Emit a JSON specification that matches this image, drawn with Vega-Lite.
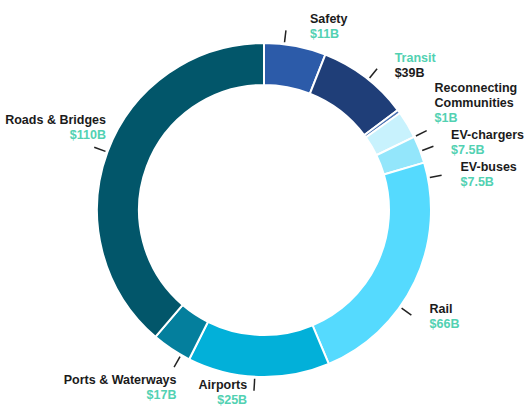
{
  "$schema": "https://vega.github.io/schema/vega-lite/v6.json",
  "width": 528,
  "height": 396,
  "autosize": "none",
  "padding": {"top": 12, "left": 0, "right": 0, "bottom": 0},
  "background": "white",
  "config": {"view": {"stroke": null}, "font": "Liberation Sans"},
  "data": {
    "values": [
      {"idx": 1, "name": "Safety", "amount": 11, "label": "$11B", "share": 17},
      {"idx": 2, "name": "Transit", "amount": 39, "label": "$39B", "share": 25},
      {"idx": 3, "name": "Reconnecting\nCommunities", "amount": 1, "label": "$1B", "share": 1},
      {"idx": 4, "name": "EV-chargers", "amount": 7.5, "label": "$7.5B", "share": 7.5},
      {"idx": 5, "name": "EV-buses", "amount": 7.5, "label": "$7.5B", "share": 7.5},
      {"idx": 6, "name": "Rail", "amount": 66, "label": "$66B", "share": 66},
      {"idx": 7, "name": "Airports", "amount": 25, "label": "$25B", "share": 39},
      {"idx": 8, "name": "Ports & Waterways", "amount": 17, "label": "$17B", "share": 11},
      {"idx": 9, "name": "Roads & Bridges", "amount": 110, "label": "$110B", "share": 110}
    ]
  },
  "layer": [
    {
      "mark": {"type": "arc", "innerRadius": 125, "outerRadius": 167, "stroke": "white", "strokeWidth": 2},
      "encoding": {
        "theta": {"field": "share", "type": "quantitative", "stack": true},
        "order": {"field": "idx", "type": "quantitative"},
        "color": {
          "field": "name",
          "type": "nominal",
          "legend": null,
          "scale": {
            "domain": ["Safety", "Transit", "Reconnecting\nCommunities", "EV-chargers", "EV-buses", "Rail", "Airports", "Ports & Waterways", "Roads & Bridges"],
            "range": ["#2c5ba9", "#1f3e78", "#4a73b3", "#c8f2fd", "#93e6fb", "#55dafe", "#02b0d9", "#047f9d", "#02566a"]
          }
        }
      }
    },
    {
      "transform": [
        {"window": [{"op": "sum", "field": "amount", "as": "cum"}], "sort": [{"field": "idx"}], "frame": [null, 0]},
        {"joinaggregate": [{"op": "sum", "field": "amount", "as": "total"}]},
        {"calculate": "2*PI*(datum.cum - datum.amount/2)/datum.total", "as": "a"},
        {"calculate": "sin(datum.a) > 0 ? 'R' : 'L'", "as": "side"},
        {"calculate": "184*cos(datum.a)", "as": "by"},
        {"window": [{"op": "row_number", "as": "rk"}], "groupby": ["side"], "sort": [{"field": "idx", "order": "descending"}]},
        {"calculate": "datum.by - 32*datum.rk", "as": "w"},
        {"window": [{"op": "max", "field": "w", "as": "wmax"}], "groupby": ["side"], "sort": [{"field": "idx", "order": "descending"}], "frame": [null, 0]},
        {"calculate": "datum.side === 'R' ? datum.wmax + 32*datum.rk : clamp(datum.by + (cos(datum.a) > 0 ? 18 : -18), -183, 183)", "as": "cy"},
        {"calculate": "datum.side === 'R' ? 190*sqrt(max(0, 1 - pow(datum.cy/186, 2))) + 10 : -(160*abs(sin(datum.a)) + 8)", "as": "lx"},
        {"calculate": "datum.cy + 15*(length(split(datum.name, '\\n')) - 1) + 1", "as": "ny"},
        {"calculate": "datum.cy - 1", "as": "ay"},
        {"calculate": "169*sin(datum.a)", "as": "x1"},
        {"calculate": "169*cos(datum.a)", "as": "y1"},
        {"calculate": "181*sin(datum.a)", "as": "x2"},
        {"calculate": "181*cos(datum.a)", "as": "y2"}
      ],
      "layer": [
        {
          "mark": {"type": "rule", "color": "#222222", "strokeWidth": 1.5},
          "encoding": {
            "x": {"field": "x1", "type": "quantitative", "scale": {"domain": [-264, 264], "nice": false, "zero": false}, "axis": null},
            "y": {"field": "y1", "type": "quantitative", "scale": {"domain": [-198, 198], "nice": false, "zero": false}, "axis": null},
            "x2": {"field": "x2"},
            "y2": {"field": "y2"}
          }
        },
        {
          "transform": [{"filter": "datum.side === 'R'"}],
          "mark": {"type": "text", "align": "left", "baseline": "bottom", "fontWeight": "bold", "fontSize": 12.5, "lineBreak": "\n", "lineHeight": 15},
          "encoding": {
            "x": {"field": "lx", "type": "quantitative"},
            "y": {"field": "ny", "type": "quantitative"},
            "text": {"field": "name"},
            "color": {"condition": {"test": "datum.idx === 2", "value": "#52d1b2"}, "value": "#1b1b1b"}
          }
        },
        {
          "transform": [{"filter": "datum.side === 'R'"}],
          "mark": {"type": "text", "align": "left", "baseline": "top", "fontWeight": "bold", "fontSize": 12.5},
          "encoding": {
            "x": {"field": "lx", "type": "quantitative"},
            "y": {"field": "ay", "type": "quantitative"},
            "text": {"field": "label"},
            "color": {"condition": {"test": "datum.idx === 2", "value": "#1b1b1b"}, "value": "#52d1b2"}
          }
        },
        {
          "transform": [{"filter": "datum.side === 'L'"}],
          "mark": {"type": "text", "align": "right", "baseline": "bottom", "fontWeight": "bold", "fontSize": 12.5, "lineBreak": "\n", "lineHeight": 15},
          "encoding": {
            "x": {"field": "lx", "type": "quantitative"},
            "y": {"field": "ny", "type": "quantitative"},
            "text": {"field": "name"},
            "color": {"value": "#1b1b1b"}
          }
        },
        {
          "transform": [{"filter": "datum.side === 'L'"}],
          "mark": {"type": "text", "align": "right", "baseline": "top", "fontWeight": "bold", "fontSize": 12.5},
          "encoding": {
            "x": {"field": "lx", "type": "quantitative"},
            "y": {"field": "ay", "type": "quantitative"},
            "text": {"field": "label"},
            "color": {"value": "#52d1b2"}
          }
        }
      ]
    }
  ]
}
